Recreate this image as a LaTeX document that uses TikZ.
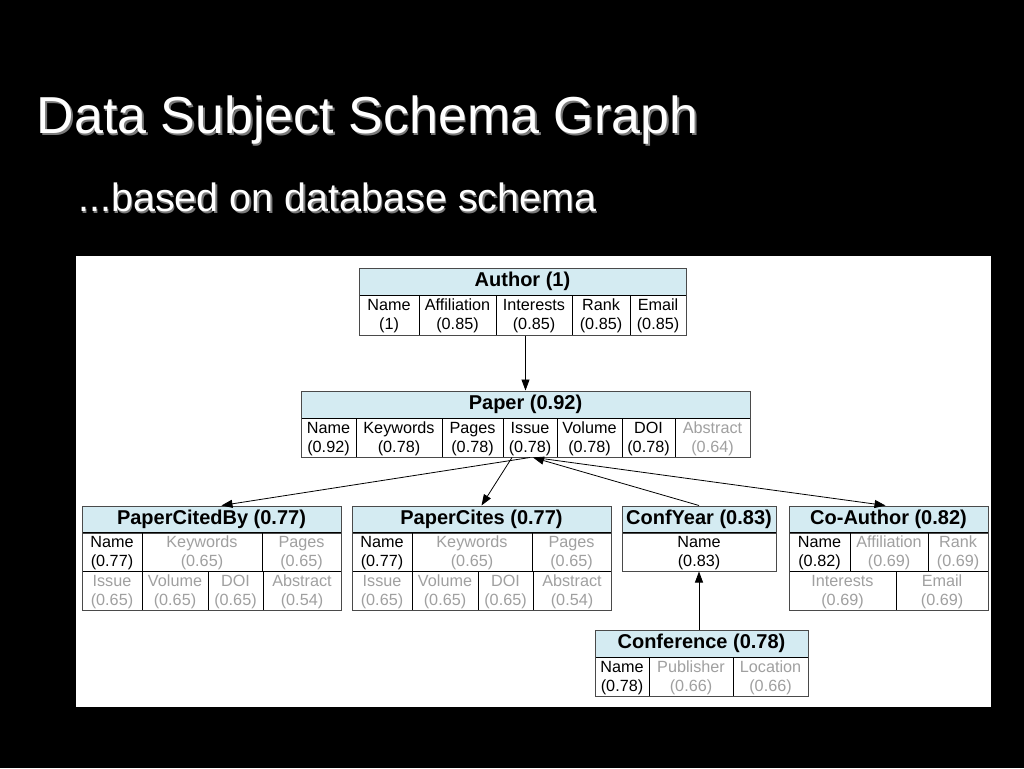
\documentclass[tikz,border=0pt]{standalone}
\usepackage{graphicx}
\usepackage{fontspec}
\setmainfont{Liberation Sans}
\usetikzlibrary{arrows.meta}
\definecolor{hdr}{HTML}{D4EBF2}
\definecolor{dim}{HTML}{A0A0A0}
\definecolor{frm}{HTML}{4A4A4A}
\definecolor{shd}{HTML}{7A7A7A}
\newcommand\tcell[7]{\node[#6, minimum width={(#4)-(#2)}, minimum height={(#5)-(#3)}] (#1) at ({((#2)+(#4))/2},{((#3)+(#5))/2}) {#7};}
\newcommand\two[2]{\rule{0pt}{15pt}#1\\#2\rule[-5pt]{0pt}{5pt}}
\tikzset{
  cell/.style={draw=black, line width=0.8pt, inner sep=0pt, align=center, text=black, font=\fontsize{16.2}{19}\selectfont},
  dimcell/.style={cell, text=dim},
  head/.style={draw=frm, fill=hdr, line width=0.8pt, inner sep=0pt, font=\fontsize{20}{22}\selectfont\bfseries},
  tbl/.style={draw=frm, line width=1pt, inner sep=0pt},
  link/.style={-{Triangle[length=11pt,width=8pt]}, line width=0.8pt, black},
  ttl/.style={anchor=base west, inner sep=0pt}
}
\begin{document}
\begin{tikzpicture}[x=1pt, y=-1pt]
\useasboundingbox (0,0) rectangle (1024,768);
\fill[black] (0,0) rectangle (1024,768);
\fill[white] (76,256) rectangle (991,707);
% titles
\node[ttl, text=shd, font=\fontsize{52}{52}\selectfont] (titles) at (38,135) {Data Subject Schema Graph};
\node[ttl, text=white, font=\fontsize{52}{52}\selectfont] (title) at (36.5,133.5) {Data Subject Schema Graph};
\node[ttl, text=shd, font=\fontsize{39.5}{40}\selectfont] (subs) at (79.5,213) {...based on database schema};
\node[ttl, text=white, font=\fontsize{39.5}{40}\selectfont] (sub) at (78,211.5) {...based on database schema};
% Author
\tcell{ah}{359}{268}{686}{295.5}{head}{Author (1)}
\tcell{a1}{359}{295.5}{419}{335}{cell}{\two{Name}{(1)}}
\tcell{a2}{419}{295.5}{496}{335}{cell}{\two{Affiliation}{(0.85)}}
\tcell{a3}{496}{295.5}{572}{335}{cell}{\two{Interests}{(0.85)}}
\tcell{a4}{572}{295.5}{630}{335}{cell}{\two{Rank}{(0.85)}}
\tcell{a5}{630}{295.5}{686}{335}{cell}{\two{Email}{(0.85)}}
\tcell{author}{359}{268}{686}{335}{tbl}{}
% Paper
\tcell{ph}{301}{391}{750}{418}{head}{Paper (0.92)}
\tcell{p1}{301}{418}{356}{457}{cell}{\two{Name}{(0.92)}}
\tcell{p2}{356}{418}{442}{457}{cell}{\two{Keywords}{(0.78)}}
\tcell{p3}{442}{418}{503}{457}{cell}{\two{Pages}{(0.78)}}
\tcell{p4}{503}{418}{557}{457}{cell}{\two{Issue}{(0.78)}}
\tcell{p5}{557}{418}{622}{457}{cell}{\two{Volume}{(0.78)}}
\tcell{p6}{622}{418}{675}{457}{cell}{\two{DOI}{(0.78)}}
\tcell{p7}{675}{418}{750}{457}{dimcell}{\two{Abstract}{(0.64)}}
\tcell{paper}{301}{391}{750}{457}{tbl}{}
% PaperCitedBy
\tcell{bh}{82}{506}{341}{533}{head}{PaperCitedBy (0.77)}
\tcell{b1}{82}{533}{142}{571}{cell}{\two{Name}{(0.77)}}
\tcell{b2}{142}{533}{262}{571}{dimcell}{\two{Keywords}{(0.65)}}
\tcell{b3}{262}{533}{341}{571}{dimcell}{\two{Pages}{(0.65)}}
\tcell{b4}{82}{571}{142}{610}{dimcell}{\two{Issue}{(0.65)}}
\tcell{b5}{142}{571}{208}{610}{dimcell}{\two{Volume}{(0.65)}}
\tcell{b6}{208}{571}{263}{610}{dimcell}{\two{DOI}{(0.65)}}
\tcell{b7}{263}{571}{341}{610}{dimcell}{\two{Abstract}{(0.54)}}
\tcell{citedby}{82}{506}{341}{610}{tbl}{}
% PaperCites
\tcell{ch}{352}{506}{611}{533}{head}{PaperCites (0.77)}
\tcell{c1}{352}{533}{412}{571}{cell}{\two{Name}{(0.77)}}
\tcell{c2}{412}{533}{532}{571}{dimcell}{\two{Keywords}{(0.65)}}
\tcell{c3}{532}{533}{611}{571}{dimcell}{\two{Pages}{(0.65)}}
\tcell{c4}{352}{571}{412}{610}{dimcell}{\two{Issue}{(0.65)}}
\tcell{c5}{412}{571}{478}{610}{dimcell}{\two{Volume}{(0.65)}}
\tcell{c6}{478}{571}{533}{610}{dimcell}{\two{DOI}{(0.65)}}
\tcell{c7}{533}{571}{611}{610}{dimcell}{\two{Abstract}{(0.54)}}
\tcell{cites}{352}{506}{611}{610}{tbl}{}
% ConfYear
\tcell{yh}{622}{506}{776}{533}{head}{ConfYear (0.83)}
\tcell{y1}{622}{533}{776}{571}{cell}{\two{Name}{(0.83)}}
\tcell{confyear}{622}{506}{776}{571}{tbl}{}
% Co-Author
\tcell{oh}{789}{506}{988}{533}{head}{Co-Author (0.82)}
\tcell{o1}{789}{533}{850}{571}{cell}{\two{Name}{(0.82)}}
\tcell{o2}{850}{533}{928}{571}{dimcell}{\two{Affiliation}{(0.69)}}
\tcell{o3}{928}{533}{988}{571}{dimcell}{\two{Rank}{(0.69)}}
\tcell{o4}{789}{571}{896}{610}{dimcell}{\two{Interests}{(0.69)}}
\tcell{o5}{896}{571}{988}{610}{dimcell}{\two{Email}{(0.69)}}
\tcell{coauthor}{789}{506}{988}{610}{tbl}{}
% Conference
\tcell{fh}{595}{630}{808}{657}{head}{Conference (0.78)}
\tcell{f1}{595}{657}{649}{696}{cell}{\two{Name}{(0.78)}}
\tcell{f2}{649}{657}{733}{696}{dimcell}{\two{Publisher}{(0.66)}}
\tcell{f3}{733}{657}{808}{696}{dimcell}{\two{Location}{(0.66)}}
\tcell{conference}{595}{630}{808}{696}{tbl}{}
% connectors
\draw[link] (paper.north |- author.south) -- (paper.north);
\draw[link] ([xshift=4.5pt]paper.south) -- ([xshift=10pt]citedby.north);
\draw[link] ([xshift=-13.5pt]paper.south) -- (cites.north);
\draw[link] (confyear.north) -- ([xshift=7.5pt]paper.south);
\draw[link] ([xshift=9pt]paper.south) -- ([xshift=-3pt]coauthor.north);
\draw[link] (confyear.south |- conference.north) -- (confyear.south);
\end{tikzpicture}
\end{document}
